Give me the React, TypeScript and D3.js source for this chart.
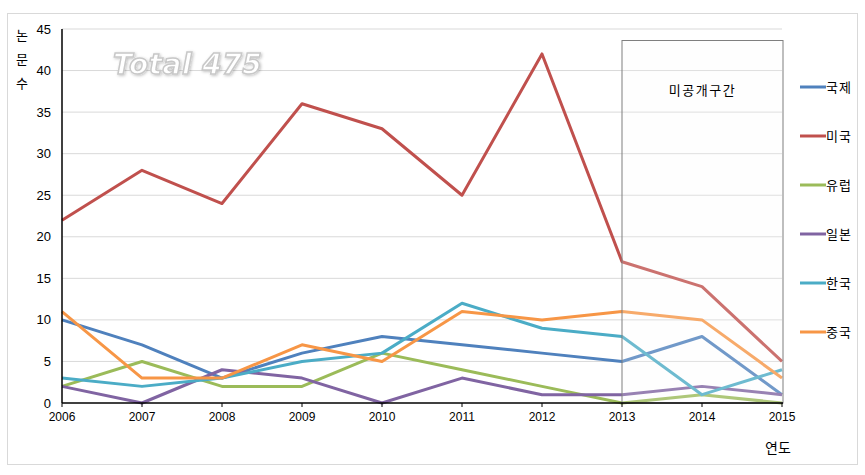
import React from "react";
import * as d3 from "d3";

const years = [2006, 2007, 2008, 2009, 2010, 2011, 2012, 2013, 2014, 2015];
const seriesNames = ["국제", "미국", "유럽", "일본", "한국", "중국"];
const colors = ["#4F81BD", "#C0504D", "#9BBB59", "#8064A2", "#4BACC6", "#F79646"];
const intl = [10, 7, 3, 6, 8, 7, 6, 5, 8, 1];
const usa = [22, 28, 24, 36, 33, 25, 42, 17, 14, 5];
const europe = [2, 5, 2, 2, 6, 4, 2, 0, 1, 0];
const japan = [2, 0, 4, 3, 0, 3, 1, 1, 2, 1];
const korea = [3, 2, 3, 5, 6, 12, 9, 8, 1, 4];
const china = [11, 3, 3, 7, 5, 11, 10, 11, 10, 3];
const yTicks = [0, 5, 10, 15, 20, 25, 30, 35, 40, 45];
const hiddenStart = 2013;
const hiddenEnd = 2015;

const allSeries = [intl, usa, europe, japan, korea, china];
const font = "'Liberation Sans', 'Noto Sans CJK KR', sans-serif";

export default function App() {
  const W = 865, H = 475;
  const x = d3.scaleLinear().domain([2006, 2015]).range([62, 782]);
  const y = d3.scaleLinear().domain([0, 45]).range([403, 29]);
  const line = d3.line<number>().x((_, i) => x(years[i])).y((d) => y(d));
  const rx0 = x(hiddenStart), rx1 = x(hiddenEnd) + 1;
  return (
    <svg width={W} height={H} style={{ position: "absolute", left: 0, top: 0 }} fontFamily={font}>
      <defs>
        <filter id="sh" x="-10%" y="-30%" width="130%" height="160%">
          <feGaussianBlur in="SourceAlpha" stdDeviation="1.5" />
          <feOffset dx="1" dy="1" result="b" />
          <feFlood floodColor="#000" floodOpacity="0.25" />
          <feComposite in2="b" operator="in" />
          <feMerge>
            <feMergeNode />
            <feMergeNode in="SourceGraphic" />
          </feMerge>
        </filter>
      </defs>
      <rect x={0} y={0} width={W} height={H} fill="#fff" />
      <rect x={7.5} y={13.5} width={850} height={451} fill="#fff" stroke="#d9d9d9" />
      {yTicks.filter((t) => t > 0).map((t) => (
        <line key={t} x1={62} x2={782} y1={y(t)} y2={y(t)} stroke="#d9d9d9" strokeWidth={1} />
      ))}
      {allSeries.map((s, i) => (
        <path key={i} d={line(s) || ""} fill="none" stroke={colors[i]} strokeWidth={3} strokeLinejoin="round" />
      ))}
      <rect x={rx0} y={40.5} width={rx1 - rx0} height={403 - 40.5} fill="#fafafa" fillOpacity={0.2} stroke="#7f7f7f" strokeWidth={1} />
      <text x={(rx0 + rx1) / 2} y={95} textAnchor="middle" fontSize={13} letterSpacing={1.5} fill="#000">미공개구간</text>
      <line x1={62} x2={62} y1={29} y2={403} stroke="#000" strokeWidth={1.5} />
      <line x1={62} x2={783} y1={403} y2={403} stroke="#000" strokeWidth={1.5} />
      {years.map((yr) => (
        <g key={yr}>
          <line x1={x(yr)} x2={x(yr)} y1={403} y2={407} stroke="#000" />
          <text x={x(yr)} y={421} textAnchor="middle" fontSize={12} fill="#000">{yr}</text>
        </g>
      ))}
      {yTicks.map((t) => (
        <text key={t} x={51} y={y(t) + 4.5} textAnchor="end" fontSize={13} fill="#000">{t}</text>
      ))}
      {["논", "문", "수"].map((c, i) => (
        <text key={c} x={22} y={40 + i * 24} textAnchor="middle" fontSize={13} fill="#000">{c}</text>
      ))}
      <text x={778} y={453} textAnchor="middle" fontSize={14} fill="#000">연도</text>
      <text x={113} y={74} fontSize={28} fontWeight="bold" fontStyle="italic" fill="#fff" stroke="#c8c8c8" strokeWidth={1.5} filter="url(#sh)" fontFamily="'DejaVu Sans', sans-serif" letterSpacing={0.5}>Total 475</text>
      {seriesNames.map((n, i) => (
        <g key={n} transform={`translate(0, ${87 + i * 49})`}>
          <line x1={800} x2={826} y1={0} y2={0} stroke={colors[i]} strokeWidth={3} />
          <text x={826} y={5} fontSize={13} letterSpacing={1} fill="#000">{n}</text>
        </g>
      ))}
    </svg>
  );
}
